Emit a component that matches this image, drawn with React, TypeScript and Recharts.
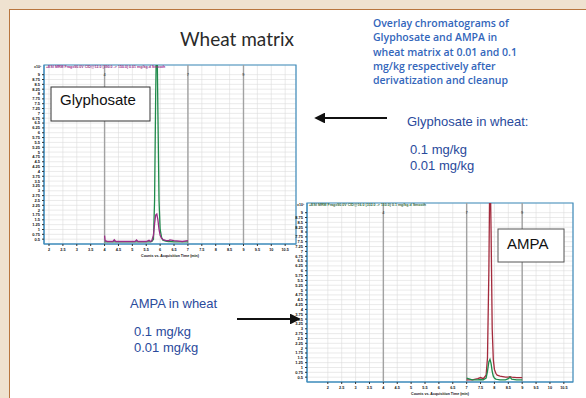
import { LineChart, Line, XAxis, YAxis, CartesianGrid, ReferenceLine, ReferenceArea, Label } from "recharts";

// retention time (min) and counts (x10^1)
const glyphTime = [4.0, 4.02, 4.1, 4.3, 4.35, 4.4, 4.8, 5.1, 5.15, 5.2, 5.5, 5.6, 5.65, 5.7, 5.76, 5.8, 5.84, 5.88, 5.92, 5.96, 6.0, 6.05, 6.1, 6.2, 6.3, 6.35, 6.5, 6.8, 7.0];
const glyphGreen = [0.36, 0.36, 0.36, 0.36, 0.36, 0.36, 0.36, 0.36, 0.36, 0.36, 0.36, 0.36, 0.36, 0.38, 0.5, 2.5, 8, 12, 7, 2.5, 1.0, 0.6, 0.45, 0.4, 0.38, 0.38, 0.36, 0.36, 0.36];
const glyphPurple = [0.68, 0.42, 0.38, 0.38, 0.47, 0.38, 0.38, 0.38, 0.46, 0.38, 0.38, 0.44, 0.38, 0.42, 0.7, 1.3, 1.75, 1.8, 1.5, 1.0, 0.7, 0.55, 0.48, 0.44, 0.42, 0.46, 0.42, 0.38, 0.42];

const ampaTime = [7.0, 7.2, 7.4, 7.5, 7.6, 7.7, 7.75, 7.8, 7.84, 7.88, 7.92, 7.96, 8.0, 8.05, 8.1, 8.2, 8.4, 8.5, 8.56, 8.62, 8.8, 9.0];
const ampaRed = [0.36, 0.36, 0.42, 0.48, 0.42, 0.6, 1.5, 6, 12, 8, 3, 1.4, 0.9, 0.7, 0.6, 0.55, 0.5, 0.5, 0.52, 0.5, 0.48, 0.48];
const ampaGreen = [0.45, 0.36, 0.36, 0.38, 0.36, 0.45, 0.8, 1.3, 1.42, 1.2, 0.8, 0.55, 0.45, 0.4, 0.38, 0.36, 0.36, 0.42, 0.5, 0.4, 0.36, 0.36];

const xTicks = [2, 2.5, 3, 3.5, 4, 4.5, 5, 5.5, 6, 6.5, 7, 7.5, 8, 8.5, 9, 9.5, 10, 10.5];
const yTicks = [0.5, 0.75, 1, 1.25, 1.5, 1.75, 2, 2.25, 2.5, 2.75, 3, 3.25, 3.5, 3.75, 4, 4.25, 4.5, 4.75, 5, 5.25, 5.5, 5.75, 6, 6.25, 6.5, 6.75, 7, 7.25, 7.5, 7.75, 8, 8.25, 8.5, 8.75, 9];
const markerTimes = [4, 7, 9];
const markerLabels = ["4", "7", "9"];

const glyphData = glyphTime.map((t, i) => ({ t, a: glyphGreen[i], b: glyphPurple[i] }));
const ampaData = ampaTime.map((t, i) => ({ t, a: ampaRed[i], b: ampaGreen[i] }));

const BLUE = "#3f8dbd";
const SANS = "'Liberation Sans', Arial, sans-serif";
const Y_DOMAIN: [number, number] = [0.25, 9.5];

interface ChromProps {
  data: { t: number; a: number; b: number }[];
  xDomain: [number, number];
  colorA: string;
  colorB: string;
  width: number;
  left: number;
  top: number;
}

const Chromatogram = ({ data, xDomain, colorA, colorB, width, left, top }: ChromProps) => (
  <div style={{ position: "absolute", left, top, fontFamily: SANS }}>
    <LineChart width={width} height={202} data={data} margin={{ top: 7, right: 6, bottom: 2, left: 0 }}>
      <CartesianGrid stroke="#dcdcdc" strokeWidth={0.6} />
      <XAxis
        type="number"
        dataKey="t"
        domain={xDomain}
        ticks={xTicks}
        interval={0}
        allowDataOverflow
        height={14}
        tickSize={2}
        tick={{ fontSize: 3.8, fill: "#111", fontWeight: 700 }}
        axisLine={{ stroke: BLUE }}
        tickLine={{ stroke: "#333" }}
      >
        <Label value="Counts vs. Acquisition Time (min)" position="insideBottom" offset={1} fontSize={3.6} fill="#111" fontWeight={700} />
      </XAxis>
      <YAxis
        type="number"
        domain={Y_DOMAIN}
        ticks={yTicks}
        interval={0}
        allowDataOverflow
        width={24}
        tickSize={2}
        tick={{ fontSize: 4, fill: "#111", fontWeight: 700 }}
        axisLine={{ stroke: BLUE }}
        tickLine={{ stroke: "#333" }}
      />
      {markerTimes.map((m, i) => (
        <ReferenceLine key={m} x={m} stroke="#a2a2a2" strokeWidth={1.4}>
          <Label value={markerLabels[i]} position="insideTop" offset={8} fontSize={4} fill="#222" />
        </ReferenceLine>
      ))}
      <Line dataKey="a" type="linear" stroke={colorA} strokeWidth={1.3} dot={false} isAnimationActive={false} />
      <Line dataKey="b" type="linear" stroke={colorB} strokeWidth={1.3} dot={false} isAnimationActive={false} />
      <ReferenceArea x1={xDomain[0]} x2={xDomain[1]} y1={Y_DOMAIN[0]} y2={Y_DOMAIN[1]} fill="none" stroke={BLUE} strokeWidth={1.2} ifOverflow="visible" />
    </LineChart>
  </div>
);

const textBlue = "#3366bb";
const labelBlue = "#2a4a9c";

export default function App() {
  return (
    <div style={{ position: "absolute", left: 0, top: 0, width: 586, height: 398, overflow: "hidden", background: "#efe2d0" }}>
      <div
        style={{
          position: "absolute",
          left: 9,
          top: 9,
          width: 600,
          height: 420,
          background: "#fff",
          borderLeft: "1.5px solid #b8763f",
          borderTop: "1.5px solid #b8763f",
        }}
      />
      <Chromatogram data={glyphData} xDomain={[1.82, 10.89]} colorA="#1e8a4a" colorB="#9a2d86" width={282} left={20} top={58} />
      <Chromatogram data={ampaData} xDomain={[1.25, 10.83]} colorA="#a32a3c" colorB="#1e8a4a" width={296} left={283} top={196} />
      <svg width={586} height={398} style={{ position: "absolute", left: 0, top: 0, pointerEvents: "none" }}>
        <defs>
          <marker id="ah" markerWidth="6" markerHeight="6" refX="5" refY="3" orient="auto">
            <path d="M0,0 L6,3 L0,6 Z" fill="#111" />
          </marker>
        </defs>
        <text x={180} y={46} fontFamily="Lato, 'Open Sans', sans-serif" fontSize={19} fill="#2a2a2a">Wheat matrix</text>
        <g fontFamily="'Open Sans', sans-serif" fontSize={10.5} fontWeight={600} fill={textBlue}>
          <text x={373} y={27}>Overlay chromatograms of</text>
          <text x={373} y={41}>Glyphosate and AMPA in</text>
          <text x={373} y={56}>wheat matrix at 0.01 and 0.1</text>
          <text x={373} y={70}>mg/kg respectively after</text>
          <text x={373} y={84}>derivatization and cleanup</text>
        </g>
        <g fontFamily={SANS} fontSize={13} fill={labelBlue}>
          <text x={407} y={126}>Glyphosate in wheat:</text>
          <text x={410} y={154}>0.1 mg/kg</text>
          <text x={410} y={170}>0.01 mg/kg</text>
          <text x={130} y={308}>AMPA in wheat</text>
          <text x={134} y={336}>0.1 mg/kg</text>
          <text x={134} y={352}>0.01 mg/kg</text>
        </g>
        <line x1={387} y1={118} x2={316} y2={118} stroke="#111" strokeWidth={1.8} markerEnd="url(#ah)" />
        <line x1={237} y1={319} x2={299} y2={319} stroke="#111" strokeWidth={1.8} markerEnd="url(#ah)" />
        <g fontFamily={SANS} fontSize={3.6} fontWeight={700}>
          <text x={34} y={67.5} fill="#222">x10¹</text>
          <text x={46} y={68} fill="#9a2d86">+ESI MRM Frag=90.0V CID@12.0 (390.0 -&gt; 150.0) 0.01 mg/kg.d Smooth</text>
          <text x={297} y={205.5} fill="#222">x10¹</text>
          <text x={309} y={206} fill="#2f6a3a">+ESI MRM Frag=90.0V CID@16.0 (332.0 -&gt; 110.0) 0.1 mg/kg.d Smooth</text>
        </g>
        <rect x={51} y={87} width={99} height={34} fill="#fff" stroke="#333" strokeWidth={1} />
        <text x={60} y={105} fontFamily={SANS} fontSize={15} fill="#111">Glyphosate</text>
        <rect x={498} y={229} width={66} height={33} fill="#fff" stroke="#555" strokeWidth={1} />
        <text x={507} y={249} fontFamily={SANS} fontSize={15} fill="#111">AMPA</text>
      </svg>
    </div>
  );
}
